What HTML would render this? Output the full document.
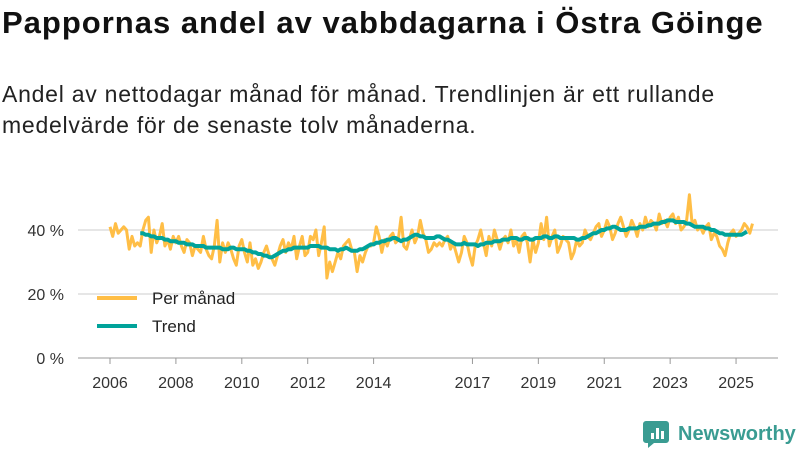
<!DOCTYPE html>
<html><head><meta charset="utf-8"><style>
body{margin:0;background:#fff;width:800px;height:450px;overflow:hidden;font-family:"Liberation Sans",sans-serif;color:#111}
h1{position:absolute;left:2px;top:5px;margin:0;font-size:31px;font-weight:bold;letter-spacing:1px}
p{position:absolute;left:2px;top:79px;margin:0;font-size:23px;line-height:31px;color:#222;letter-spacing:0.75px}
svg{position:absolute;left:0;top:0}
</style></head><body>
<h1>Pappornas andel av vabbdagarna i Östra Göinge</h1>
<p>Andel av nettodagar månad för månad. Trendlinjen är ett rullande<br>medelvärde för de senaste tolv månaderna.</p>
<svg id="c" width="800" height="450"></svg>
<script>
const monthly=[
41,38,42,39,40,41,40,34,38,35,36,35,
40,43,44,33,40,36,38,42,35,37,34,38,
36,38,35,33,37,36,32,35,34,33,38,34,
32,31,35,43,30,36,33,36,34,31,29,35,
37,33,30,36,29,31,28,30,33,35,32,31,
29,32,35,37,33,36,34,38,31,35,38,32,
33,38,37,40,32,36,41,25,30,27,30,33,
31,35,36,37,34,33,27,32,30,33,35,35,
36,41,38,33,37,35,38,39,36,37,44,35,
34,37,40,36,38,43,39,37,33,34,36,35,
36,35,37,38,34,36,33,30,33,38,36,32,
29,35,37,40,36,32,38,35,40,37,34,37,
38,36,40,35,37,33,38,39,36,30,37,33,
36,42,37,44,35,38,40,33,35,38,37,36,
31,33,37,35,36,40,38,37,39,41,42,38,
40,43,41,37,39,42,44,41,38,40,43,41,
38,42,40,44,41,43,42,40,45,42,43,41,
44,45,42,44,40,41,43,51,42,43,40,41,
39,41,42,37,39,38,35,34,32,36,39,40,
38,39,40,42,41,39,42];
const trendStart=11;
const trend=[39,
39,38.5,38.5,38,38,37.5,37.5,37.5,37,37,36.5,36.5,
36.5,36,36,36,35.5,35.5,35.5,35,35,35,35,34.5,
34.5,34.5,34.5,34.5,34.5,34,34,34,34.5,34.5,34,34,
34,34,33.5,33.5,33,33,32.5,32.5,32,32,31.5,31.5,
32,32.5,33,33.5,33.5,34,34,34.5,34.5,34.5,34.5,34.5,
34.5,35,35,35,35,34.5,34.5,34.5,34,34,34,33.5,
34,34,34.5,34,33.5,33.5,33.5,34,34,34.5,35,35.5,
35.5,36,36,36.5,36.5,37,37,37.5,37.5,37,36.5,37,
37,37.5,38,38.5,38.5,38,38,37.5,37.5,37.5,37.5,38,
38,37.5,37,37,36.5,36,35.5,35.5,35.5,36,35.5,35.5,
35.5,35.5,35,35.5,35.5,36,36,36,36.5,36.5,36.5,37,
37,37,37.5,37.5,37.5,37,37,37.5,37.5,37,37,37.5,
37.5,37.5,38,38,37.5,37.5,38,38,37.5,37.5,37.5,37.5,
37.5,37.5,37,37,37.5,37.5,38,38.5,39,39,39.5,40,
40,40.5,40.5,41,41,40.5,40,40,40,40.5,40.5,40.5,
40.5,41,41,41,41.5,41.5,42,42,42,42.5,42.5,43,
43,43,42.5,42.5,42.5,42.5,42,42,41.5,41,41,41,
41,40.5,40.5,40,40,39.5,39,39,38.5,38.5,38.5,38.5,
38.5,38.5,38.5,39,39.5];
const yTicks=[0,20,40];
const yLabels=["0 %","20 %","40 %"];
const xTicks=[2006,2008,2010,2012,2014,2017,2019,2021,2023,2025];
const startYear=2006;
const X=t=>110+(t-2006)*32.95;
const Y=v=>358-v*3.2;
const NS="http://www.w3.org/2000/svg",svg=document.getElementById('c');
function mk(tag,a,parent){const e=document.createElementNS(NS,tag);for(const k in a)e.setAttribute(k,a[k]);(parent||svg).appendChild(e);return e;}
yTicks.forEach((v,i)=>{
 const l=mk('line',{x1:78,x2:778,y1:Y(v),y2:Y(v),stroke:v===0?'#bbb':'#ddd','stroke-width':1.5});
 
 
 const t=mk('text',{x:64,y:Y(v)+6,'text-anchor':'end','font-size':16,fill:'#333'});
 t.textContent=yLabels[i];
 
 
});
xTicks.forEach(yr=>{
 const tk=mk('line',{x1:X(yr),x2:X(yr),y1:358,y2:364,stroke:'#999','stroke-width':1});
 
 
 const t=mk('text',{x:X(yr),y:388,'text-anchor':'middle','font-size':16,fill:'#333'});
 t.textContent=yr;
 
 
});
const mp=monthly.map((v,i)=>X(startYear+i/12).toFixed(1)+','+Y(v).toFixed(1)).join(' ');
const m=mk('polyline',{points:mp,fill:'none',stroke:'#ffbe46','stroke-width':3,'stroke-linejoin':'round'});


const tp=trend.map((v,i)=>X(startYear+(trendStart+i)/12).toFixed(1)+','+Y(v).toFixed(1)).join(' ');
const tr=mk('polyline',{points:tp,fill:'none',stroke:'#00a39a','stroke-width':4,'stroke-linejoin':'round'});


[['Per månad','#ffbe46',298,'legend-monthly'],['Trend','#00a39a',326,'legend-trend']].forEach(([lab,c,y,n])=>{
 const g=mk('g',{});
 
 
 mk('line',{x1:97,x2:137,y1:y,y2:y,stroke:c,'stroke-width':4},g);
 const t=mk('text',{x:152,y:y+6,'font-size':17,fill:'#222'},g);t.textContent=lab;
});
const lg=mk('g',{});


mk('path',{d:'M646 421 h20 a3 3 0 0 1 3 3 v16 a3 3 0 0 1 -3 3 h-12 l-6 5 v-5 h-2 a3 3 0 0 1 -3 -3 v-16 a3 3 0 0 1 3 -3z',fill:'#3a9c92'},lg);
mk('rect',{x:651,y:433,width:3,height:6,fill:'#fff'},lg);
mk('rect',{x:656,y:428,width:3,height:11,fill:'#fff'},lg);
mk('rect',{x:661,y:431,width:3,height:8,fill:'#fff'},lg);
const lt=mk('text',{x:678,y:440,'font-size':20,'font-weight':'bold',fill:'#3a9c92'},lg);lt.textContent='Newsworthy';
</script>
</body></html>
